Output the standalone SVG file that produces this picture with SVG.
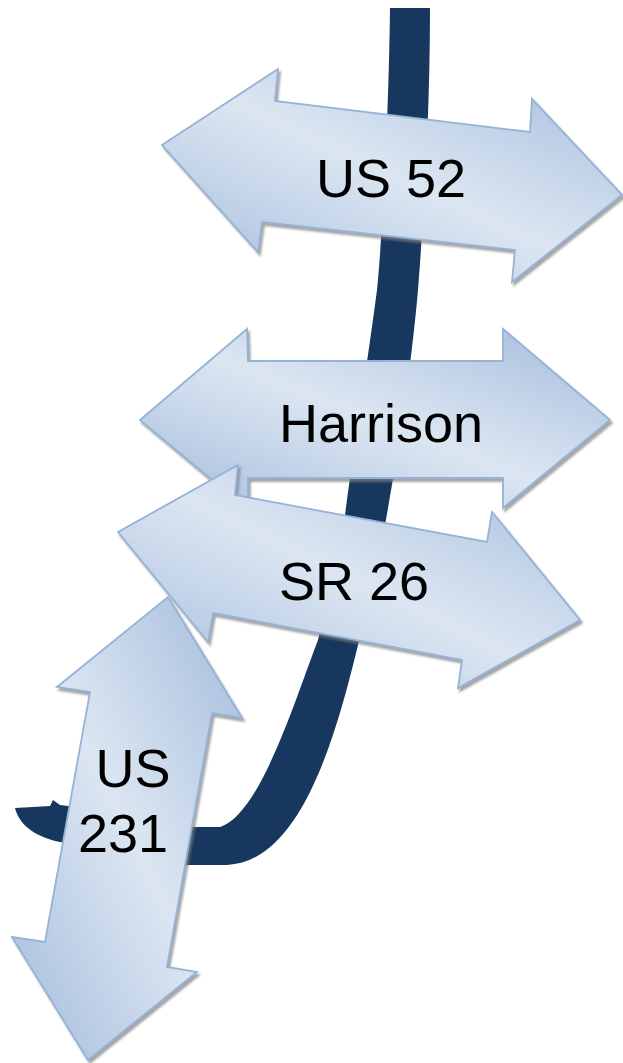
<svg xmlns="http://www.w3.org/2000/svg" width="623" height="1063" viewBox="0 0 623 1063">
<style>
.arrow{fill:url(#g);stroke:#95b3d7;stroke-width:1.8;stroke-linejoin:miter;filter:url(#sh)}
.lbl{font-family:"Liberation Sans",Arial,sans-serif;font-size:54px;fill:#000;text-anchor:middle}
</style>
<defs>
<linearGradient id="g" x1="0" y1="1" x2="1" y2="0">
<stop offset="0" stop-color="#a3bbdc"/>
<stop offset="0.5" stop-color="#dce6f2"/>
<stop offset="1" stop-color="#a3bbdc"/>
</linearGradient>
<filter id="sh" x="-10%" y="-10%" width="125%" height="125%">
<feDropShadow dx="2" dy="3" stdDeviation="1" flood-color="#7f7f7f" flood-opacity="0.7"/>
</filter>
</defs>
<g id="connectors">
<path id="road" fill="#17375e" d="M390,8 L430,8 C430,100 425,200 418,290 C410,380 395,470 385,525 C375,580 365,620 358,645 C335,740 300,862 227,865 L187,865 L60,842 C40,838 20,828 15,808 L50,806 L53,800 L60,805 L68,806 L187,827 L220,827 C260,815 295,700 318,640 C330,590 340,540 345,515 C355,440 365,380 377,290 C383,230 389,100 390,8 Z"/>
</g>
<g id="us52">
<polygon class="arrow" points="162,145 278,69 275,101 530,132 532,99 622,195 512,282 515,250 262,222 258,252"/>
<text class="lbl" x="391" y="197">US 52</text>
</g>
<g id="harrison">
<polygon class="arrow" points="140,420 247,329 248,361 503,361 503,329 610,420 503,508 503,478 248,478 248,510"/>
<text class="lbl" x="381" y="442">Harrison</text>
</g>
<g id="sr26">
<polygon class="arrow" points="118,532 238,465 235,495 487,542 492,512 580,620 458,688 462,660 213,613 208,642"/>
<text class="lbl" x="354" y="600">SR 26</text>
</g>
<g id="us231">
<polygon class="arrow" points="168,597 242,718 212,713 167,967 197,972 88,1060 12,937 45,942 90,692 57,687"/>
<text class="lbl" x="133" y="787">US</text>
<text class="lbl" x="123" y="852">231</text>
</g>
</svg>
